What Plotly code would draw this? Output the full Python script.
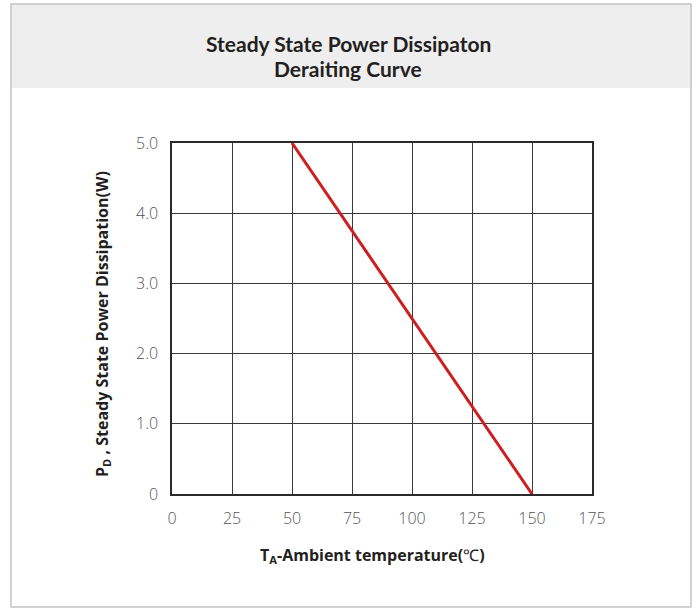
import plotly.graph_objects as go

# Data
temperature = [50, 150]          # T_A (°C)
power = [5.0, 0.0]               # P_D (W)
x_ticks = [0, 25, 50, 75, 100, 125, 150, 175]
x_tick_labels = ["0", "25", "50", "75", "100", "125", "150", "175"]
y_ticks = [0, 1, 2, 3, 4, 5]
y_tick_labels = ["0", "1.0", "2.0", "3.0", "4.0", "5.0"]

W, H = 696, 608
L, R, T, B = 172, 592, 143, 494
pw, ph = R - L, B - T

def px_x(p):
    return (p - L) / pw

def px_y(p):
    return (B - p) / ph

fig = go.Figure()
fig.add_trace(go.Scatter(
    x=temperature, y=power, mode="lines",
    line=dict(color="#cc1f1f", width=3),
    cliponaxis=False, showlegend=False, hoverinfo="skip"))

tick_font = dict(family="Open Sans, sans-serif", size=16, color="#555555", weight=300)
grid_col = "#3a3a3a"
title_font = dict(family="Lato, sans-serif", size=21, color="#231f20")
axis_title_font = dict(family="Open Sans, sans-serif", size=16, color="#231f20")

fig.update_layout(
    width=W, height=H,
    margin=dict(l=L, r=W - R, t=T, b=H - B),
    paper_bgcolor="white", plot_bgcolor="white",
    xaxis=dict(range=[0, 175], tickvals=x_ticks, ticktext=x_tick_labels,
               showgrid=True, gridcolor=grid_col, gridwidth=1,
               showline=True, linecolor="#2a2a2a", linewidth=1.6, mirror=True,
               zeroline=False, ticks="", tickfont=tick_font,
               ticklabelstandoff=9, fixedrange=True),
    yaxis=dict(range=[0, 5], tickvals=y_ticks, ticktext=y_tick_labels,
               showgrid=True, gridcolor=grid_col, gridwidth=1,
               showline=True, linecolor="#2a2a2a", linewidth=1.6, mirror=True,
               zeroline=False, ticks="", tickfont=tick_font,
               ticklabelstandoff=9, fixedrange=True),
    shapes=[
        dict(type="rect", xref="paper", yref="paper",
             x0=px_x(11), x1=px_x(691), y0=px_y(88), y1=px_y(4),
             fillcolor="#eeeeee", line=dict(width=0), layer="below"),
        dict(type="rect", xref="paper", yref="paper",
             x0=px_x(11), x1=px_x(691), y0=px_y(607), y1=px_y(4),
             fillcolor="rgba(0,0,0,0)", line=dict(color="#c4c4c4", width=1.5),
             layer="below"),
    ],
    annotations=[
        dict(text="<b>Steady State Power Dissipaton</b>", xref="paper", yref="paper",
             x=px_x(348), y=px_y(43), showarrow=False, font=title_font,
             xanchor="center", yanchor="middle"),
        dict(text="<b>Deraiting Curve</b>", xref="paper", yref="paper",
             x=px_x(348), y=px_y(68), showarrow=False, font=title_font,
             xanchor="center", yanchor="middle"),
        dict(text="<b>T<sub>A</sub>-Ambient temperature(</b>℃<b>)</b>",
             xref="paper", yref="paper", x=px_x(372), y=px_y(555),
             showarrow=False, font=axis_title_font,
             xanchor="center", yanchor="middle"),
        dict(text="<b>P<sub>D</sub> , Steady State Power Dissipation(W)</b>",
             xref="paper", yref="paper", x=px_x(102), y=px_y(324),
             showarrow=False, textangle=-90, font=axis_title_font,
             xanchor="center", yanchor="middle"),
    ],
)

fig.write_html("out.html",
               config={"displayModeBar": False, "staticPlot": True},
               post_script="document.body.style.margin='0px';document.body.style.padding='0px';")
